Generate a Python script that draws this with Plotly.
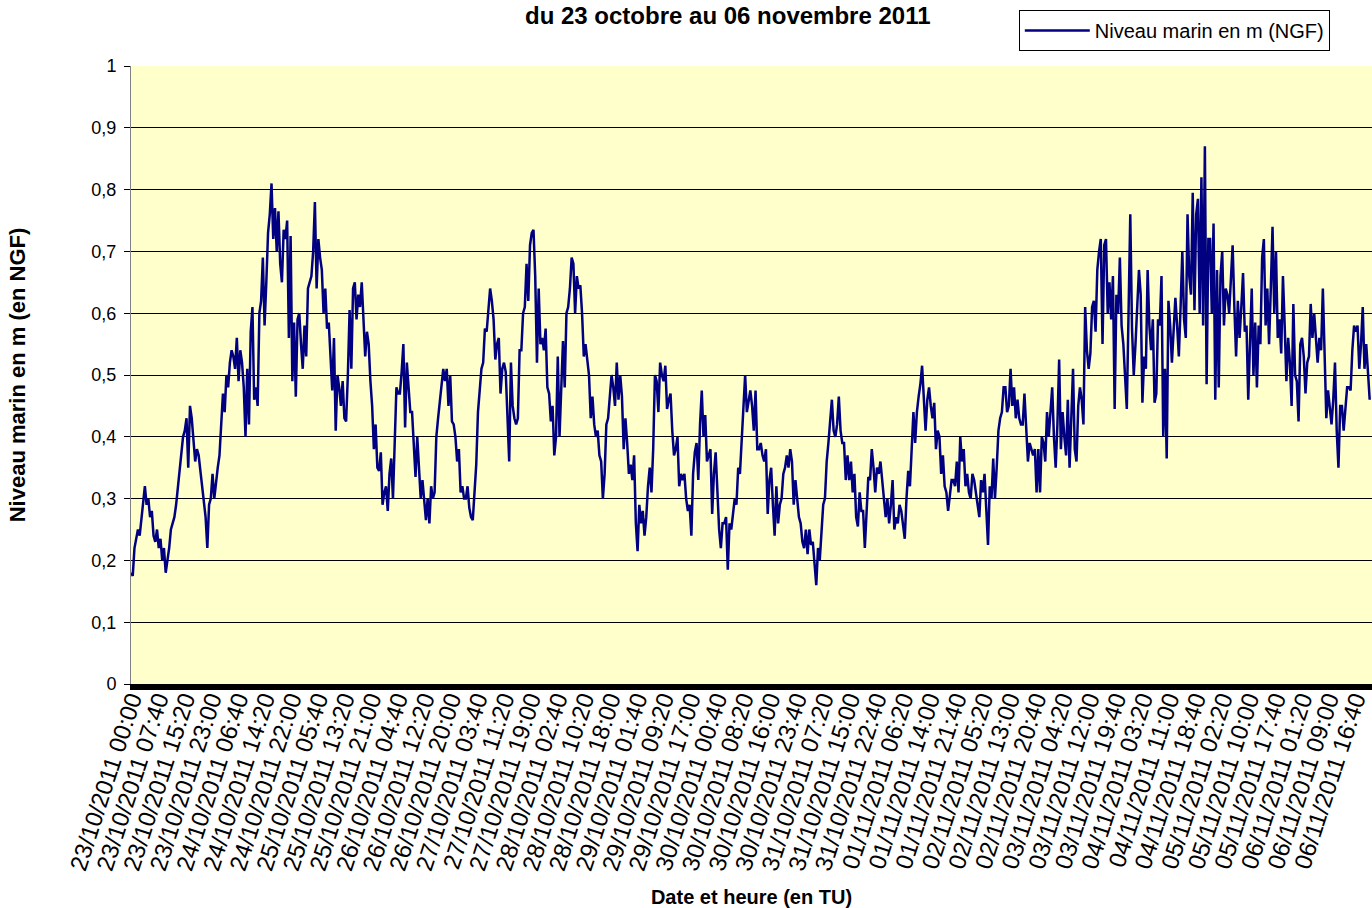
import plotly.graph_objects as go
import pandas as pd

# Sea level (m NGF), one reading every 30 minutes from 23/10/2011 00:00
start = "2011-10-23 00:00"
step = "30min"

niveau_23_24 = [0.18, 0.175, 0.22, 0.235, 0.25, 0.24, 0.27, 0.30, 0.32, 0.29, 0.30, 0.27,
                0.28, 0.24, 0.23, 0.25, 0.22, 0.235, 0.20, 0.22, 0.18, 0.20, 0.22, 0.25,
                0.26, 0.27, 0.29, 0.32, 0.34, 0.38, 0.40, 0.41, 0.43, 0.35, 0.45, 0.43,
                0.39, 0.36, 0.38, 0.37, 0.345, 0.32, 0.30, 0.27, 0.22, 0.29, 0.30, 0.34,
                0.30, 0.33, 0.35, 0.37, 0.42, 0.47, 0.44, 0.50, 0.48, 0.52, 0.54, 0.53,
                0.51, 0.56, 0.49, 0.54, 0.52, 0.48, 0.40, 0.51, 0.42, 0.57, 0.61, 0.46]
niveau_24_25 = [0.48, 0.45, 0.60, 0.62, 0.69, 0.58, 0.65, 0.73, 0.76, 0.81, 0.72, 0.77,
                0.70, 0.765, 0.68, 0.65, 0.735, 0.72, 0.75, 0.56, 0.725, 0.49, 0.585, 0.465,
                0.59, 0.60, 0.55, 0.51, 0.58, 0.53, 0.64, 0.65, 0.66, 0.70, 0.78, 0.64,
                0.72, 0.69, 0.67, 0.60, 0.64, 0.575, 0.585, 0.53, 0.475, 0.56, 0.41, 0.50,
                0.48, 0.45, 0.49, 0.43, 0.425, 0.50, 0.605, 0.51, 0.64, 0.65, 0.59, 0.63,
                0.61, 0.65, 0.59, 0.53, 0.57, 0.55, 0.49, 0.45, 0.38, 0.42, 0.35, 0.345]
niveau_26_27 = [0.375, 0.29, 0.31, 0.32, 0.28, 0.34, 0.365, 0.30, 0.39, 0.48, 0.47, 0.47,
                0.505, 0.55, 0.415, 0.52, 0.48, 0.44, 0.44, 0.375, 0.335, 0.40, 0.345, 0.30,
                0.33, 0.29, 0.265, 0.30, 0.26, 0.32, 0.30, 0.31, 0.40, 0.43, 0.455, 0.48,
                0.51, 0.49, 0.51, 0.45, 0.50, 0.425, 0.42, 0.40, 0.36, 0.38, 0.31, 0.32,
                0.30, 0.30, 0.32, 0.285, 0.27, 0.265, 0.31, 0.355, 0.44, 0.475, 0.51, 0.52,
                0.575, 0.57, 0.60, 0.64, 0.62, 0.59, 0.525, 0.55, 0.56, 0.47, 0.51, 0.52]
niveau_27_29 = [0.505, 0.435, 0.36, 0.52, 0.45, 0.43, 0.42, 0.43, 0.54, 0.54, 0.60, 0.61,
                0.68, 0.62, 0.71, 0.73, 0.735, 0.66, 0.52, 0.64, 0.55, 0.56, 0.54, 0.575,
                0.48, 0.47, 0.425, 0.45, 0.37, 0.40, 0.53, 0.40, 0.47, 0.555, 0.48, 0.60,
                0.61, 0.64, 0.69, 0.68, 0.60, 0.66, 0.64, 0.645, 0.60, 0.53, 0.55, 0.52,
                0.50, 0.43, 0.465, 0.42, 0.40, 0.41, 0.37, 0.36, 0.30, 0.34, 0.42, 0.43,
                0.465, 0.50, 0.48, 0.45, 0.52, 0.46, 0.50, 0.465, 0.38, 0.43, 0.39, 0.34]
niveau_29_30 = [0.355, 0.33, 0.37, 0.26, 0.215, 0.29, 0.26, 0.28, 0.24, 0.27, 0.32, 0.35,
                0.31, 0.38, 0.50, 0.49, 0.44, 0.52, 0.50, 0.49, 0.515, 0.445, 0.46, 0.47,
                0.41, 0.37, 0.38, 0.40, 0.32, 0.34, 0.33, 0.34, 0.30, 0.28, 0.29, 0.24,
                0.34, 0.375, 0.39, 0.33, 0.42, 0.475, 0.40, 0.435, 0.36, 0.37, 0.38, 0.275,
                0.34, 0.375, 0.30, 0.25, 0.22, 0.26, 0.26, 0.27, 0.185, 0.26, 0.25, 0.28,
                0.30, 0.29, 0.35, 0.34, 0.40, 0.44, 0.50, 0.44, 0.46, 0.475, 0.45, 0.41]
niveau_30_01 = [0.475, 0.38, 0.38, 0.39, 0.37, 0.36, 0.38, 0.275, 0.33, 0.35, 0.29, 0.24,
                0.32, 0.26, 0.29, 0.30, 0.34, 0.35, 0.37, 0.35, 0.38, 0.36, 0.29, 0.33,
                0.30, 0.27, 0.26, 0.23, 0.22, 0.25, 0.21, 0.25, 0.225, 0.23, 0.195, 0.16,
                0.22, 0.20, 0.245, 0.29, 0.30, 0.36, 0.39, 0.42, 0.46, 0.41, 0.40, 0.42,
                0.465, 0.41, 0.39, 0.39, 0.33, 0.37, 0.33, 0.36, 0.31, 0.34, 0.27, 0.255,
                0.31, 0.28, 0.28, 0.22, 0.28, 0.335, 0.33, 0.38, 0.35, 0.31, 0.35, 0.34]
niveau_01_02 = [0.36, 0.33, 0.31, 0.27, 0.30, 0.26, 0.29, 0.33, 0.25, 0.27, 0.26, 0.29,
                0.28, 0.26, 0.235, 0.30, 0.345, 0.32, 0.385, 0.44, 0.39, 0.44, 0.465, 0.485,
                0.515, 0.46, 0.41, 0.46, 0.48, 0.45, 0.43, 0.455, 0.38, 0.41, 0.40, 0.34,
                0.37, 0.32, 0.31, 0.28, 0.31, 0.33, 0.33, 0.32, 0.36, 0.31, 0.40, 0.36,
                0.38, 0.32, 0.34, 0.31, 0.30, 0.34, 0.33, 0.31, 0.29, 0.27, 0.33, 0.31,
                0.34, 0.27, 0.225, 0.32, 0.30, 0.365, 0.30, 0.35, 0.41, 0.43, 0.44, 0.48]
niveau_02_04 = [0.48, 0.44, 0.45, 0.51, 0.45, 0.48, 0.43, 0.46, 0.43, 0.42, 0.42, 0.47,
                0.40, 0.36, 0.39, 0.38, 0.37, 0.38, 0.31, 0.38, 0.31, 0.40, 0.39, 0.36,
                0.44, 0.40, 0.44, 0.48, 0.40, 0.35, 0.42, 0.525, 0.38, 0.44, 0.40, 0.37,
                0.46, 0.35, 0.43, 0.51, 0.38, 0.36, 0.45, 0.48, 0.46, 0.42, 0.61, 0.54,
                0.51, 0.535, 0.61, 0.62, 0.57, 0.67, 0.70, 0.72, 0.55, 0.71, 0.72, 0.60,
                0.65, 0.59, 0.66, 0.445, 0.63, 0.60, 0.69, 0.58, 0.55, 0.50, 0.445, 0.60]
niveau_04_05 = [0.76, 0.575, 0.50, 0.55, 0.60, 0.67, 0.63, 0.455, 0.53, 0.51, 0.67, 0.58,
                0.54, 0.59, 0.455, 0.47, 0.59, 0.58, 0.66, 0.40, 0.51, 0.365, 0.62, 0.58,
                0.52, 0.58, 0.625, 0.58, 0.53, 0.61, 0.70, 0.59, 0.56, 0.76, 0.66, 0.63,
                0.795, 0.605, 0.76, 0.785, 0.60, 0.82, 0.58, 0.87, 0.485, 0.72, 0.72, 0.60,
                0.745, 0.46, 0.67, 0.48, 0.66, 0.70, 0.58, 0.64, 0.63, 0.60, 0.66, 0.71,
                0.61, 0.53, 0.62, 0.56, 0.61, 0.665, 0.57, 0.58, 0.46, 0.56, 0.64, 0.50]
niveau_05_06 = [0.585, 0.48, 0.58, 0.55, 0.69, 0.72, 0.58, 0.64, 0.55, 0.64, 0.74, 0.60,
                0.70, 0.56, 0.59, 0.535, 0.66, 0.58, 0.49, 0.56, 0.52, 0.45, 0.615, 0.50,
                0.49, 0.425, 0.55, 0.56, 0.53, 0.47, 0.52, 0.53, 0.615, 0.56, 0.60, 0.56,
                0.52, 0.56, 0.54, 0.64, 0.54, 0.43, 0.475, 0.45, 0.42, 0.46, 0.52, 0.41,
                0.35, 0.45, 0.45, 0.41, 0.45, 0.48, 0.48, 0.475, 0.54, 0.58, 0.57, 0.58,
                0.51, 0.55, 0.61, 0.51, 0.55, 0.50, 0.46]

niveau = (niveau_23_24 + niveau_24_25 + niveau_26_27 + niveau_27_29 + niveau_29_30
          + niveau_30_01 + niveau_01_02 + niveau_02_04 + niveau_04_05 + niveau_05_06)
times = pd.date_range(start, periods=len(niveau), freq=step)

tick_labels = [
    "23/10/2011 00:00", "23/10/2011 07:40", "23/10/2011 15:20", "23/10/2011 23:00",
    "24/10/2011 06:40", "24/10/2011 14:20", "24/10/2011 22:00", "25/10/2011 05:40",
    "25/10/2011 13:20", "25/10/2011 21:00", "26/10/2011 04:40", "26/10/2011 12:20",
    "26/10/2011 20:00", "27/10/2011 03:40", "27/10/2011 11:20", "27/10/2011 19:00",
    "28/10/2011 02:40", "28/10/2011 10:20", "28/10/2011 18:00", "29/10/2011 01:40",
    "29/10/2011 09:20", "29/10/2011 17:00", "30/10/2011 00:40", "30/10/2011 08:20",
    "30/10/2011 16:00", "30/10/2011 23:40", "31/10/2011 07:20", "31/10/2011 15:00",
    "31/10/2011 22:40", "01/11/2011 06:20", "01/11/2011 14:00", "01/11/2011 21:40",
    "02/11/2011 05:20", "02/11/2011 13:00", "02/11/2011 20:40", "03/11/2011 04:20",
    "03/11/2011 12:00", "03/11/2011 19:40", "04/11/2011 03:20", "04/11/2011 11:00",
    "04/11/2011 18:40", "05/11/2011 02:20", "05/11/2011 10:00", "05/11/2011 17:40",
    "06/11/2011 01:20", "06/11/2011 09:00", "06/11/2011 16:40",
]
tick_vals = pd.to_datetime(tick_labels, format="%d/%m/%Y %H:%M")
x_range = ["2011-10-23 00:00", "2011-11-06 21:40"]
y_ticks = [0, 0.1, 0.2, 0.3, 0.4, 0.5, 0.6, 0.7, 0.8, 0.9, 1]

FONT = "Liberation Sans, Arial, sans-serif"

fig = go.Figure()
fig.add_trace(go.Scatter(
    x=times, y=niveau, mode="lines", name="Niveau marin en m (NGF)",
    line=dict(color="#000080", width=2.5),
))

fig.update_layout(
    width=1372, height=908,
    margin=dict(l=131, r=0, t=66, b=224, autoexpand=False),
    paper_bgcolor="white",
    plot_bgcolor="#FFFFCC",
    separators=", ",
    font=dict(family=FONT, size=20, color="black"),
    showlegend=True,
    legend=dict(
        x=0.966, xanchor="right", y=1.0906, yanchor="top",
        bgcolor="white", bordercolor="black", borderwidth=1,
        itemwidth=65,
        font=dict(family=FONT, size=20, color="black"),
    ),
    annotations=[dict(
        text="<b>du 23 octobre au 06 novembre 2011</b>",
        xref="paper", yref="paper", x=0.481, y=1.0825,
        xanchor="center", yanchor="middle", showarrow=False,
        font=dict(family=FONT, size=24, color="black"),
    )],
)

fig.update_xaxes(
    type="date", range=x_range, automargin=False,
    tickmode="array", tickvals=tick_vals, ticktext=tick_labels,
    tickangle=-72, tickfont=dict(family=FONT, size=24),
    ticklabelstandoff=-14,
    showgrid=False, zeroline=False,
    showline=True, linecolor="black", linewidth=6,
    ticks="",
    title=dict(text="<b>Date et heure (en TU)</b>", font=dict(family=FONT, size=20), standoff=20),
)
fig.update_yaxes(
    range=[0, 1], tickmode="array", tickvals=y_ticks, automargin=False,
    showgrid=True, gridcolor="black", gridwidth=1,
    zeroline=False,
    showline=True, linecolor="#808080", linewidth=1,
    ticks="outside", ticklen=6, tickcolor="black", ticklabelstandoff=4,
    tickfont=dict(family=FONT, size=18),
    title=dict(text="<b>Niveau marin en m (en NGF)</b>", font=dict(family=FONT, size=22), standoff=59),
)

fig.write_html(
    "out.html",
    config={"displayModeBar": False},
    post_script="document.body.style.margin='0px';document.body.style.overflow='hidden';",
)
